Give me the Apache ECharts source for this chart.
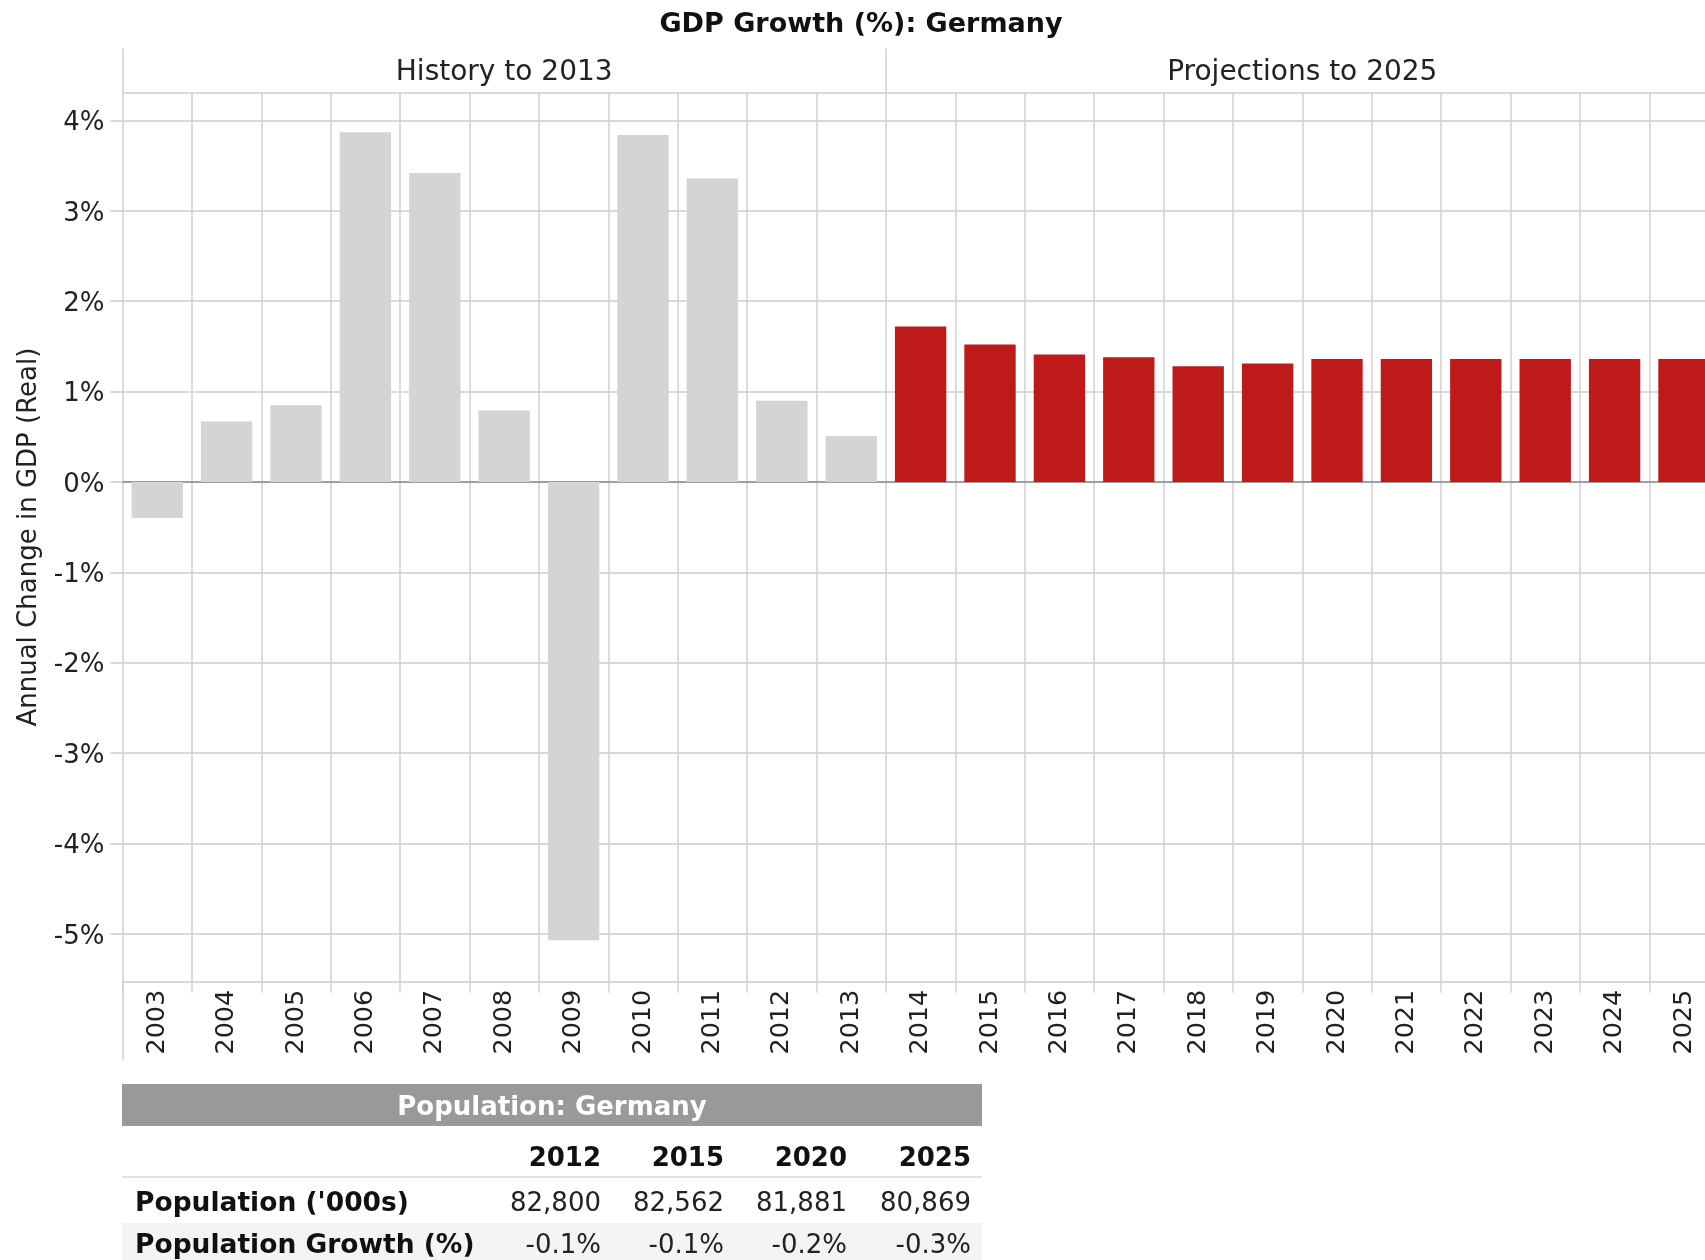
<!DOCTYPE html>
<html><head><meta charset="utf-8">
<script src="https://cdn.jsdelivr.net/npm/echarts@6/dist/echarts.min.js"></script>
<style>html,body{margin:0;padding:0;background:#fff}#c{width:1705px;height:1260px}</style>
</head><body><div id="c"></div>
<script>
const chartTitle = 'GDP Growth (%): Germany';
const historyLabel = 'History to 2013';
const projectionLabel = 'Projections to 2025';
const yAxisName = 'Annual Change in GDP (Real)';
const historyYears = ['2003','2004','2005','2006','2007','2008','2009','2010','2011','2012','2013'];
const historyGrowth = [-0.4, 0.67, 0.85, 3.87, 3.42, 0.79, -5.07, 3.84, 3.36, 0.9, 0.51];
const projectionYears = ['2014','2015','2016','2017','2018','2019','2020','2021','2022','2023','2024','2025'];
const projectionGrowth = [1.72, 1.52, 1.41, 1.38, 1.28, 1.31, 1.36, 1.36, 1.36, 1.36, 1.36, 1.36];
const yMin = -5.53, yMax = 4.31;
const tableTitle = 'Population: Germany';
const tableYears = ['2012','2015','2020','2025'];
const tableRowLabels = ["Population ('000s)", 'Population Growth (%)'];
const populationValues = ['82,800','82,562','81,881','80,869'];
const populationGrowth = ['-0.1%','-0.1%','-0.2%','-0.3%'];

const FONT = '"DejaVu Sans", Verdana, sans-serif';
const categories = historyYears.concat(projectionYears);
const n = categories.length;
const nh = historyYears.length;
const histData = historyGrowth.concat(projectionYears.map(() => '-'));
const projData = historyYears.map(() => '-').concat(projectionGrowth);

// table graphics
const tbl = { left: 122, right: 982, barTop: 1084, barH: 42, headY: 1159, lineY: 1177, row1Y: 1204.5, row2Top: 1223, row2Y: 1246.5, labelX: 135, cols: [601, 724, 847, 971] };
const g = [];
g.push({ type: 'text', x: 861, y: 24.5, style: { text: chartTitle, font: 'bold 27px ' + FONT, fill: '#111', align: 'center', verticalAlign: 'middle' } });
g.push({ type: 'rect', shape: { x: tbl.left, y: tbl.barTop, width: tbl.right - tbl.left, height: tbl.barH }, style: { fill: '#999999' } });
g.push({ type: 'text', x: (tbl.left + tbl.right) / 2, y: tbl.barTop + tbl.barH / 2 + 3.5, style: { text: tableTitle, font: 'bold 26px ' + FONT, fill: '#fff', align: 'center', verticalAlign: 'middle' } });
g.push({ type: 'rect', shape: { x: tbl.left, y: tbl.row2Top, width: tbl.right - tbl.left, height: 1260 - tbl.row2Top }, style: { fill: '#f4f4f4' } });
g.push({ type: 'line', shape: { x1: tbl.left, y1: tbl.lineY, x2: tbl.right, y2: tbl.lineY }, style: { stroke: '#e2e2e2', lineWidth: 2 } });
tableYears.forEach((y, i) => g.push({ type: 'text', x: tbl.cols[i], y: tbl.headY, style: { text: y, font: 'bold 26px ' + FONT, fill: '#111', align: 'right', verticalAlign: 'middle' } }));
[populationValues, populationGrowth].forEach((row, r) => {
  const yy = r === 0 ? tbl.row1Y : tbl.row2Y;
  g.push({ type: 'text', x: tbl.labelX, y: yy, style: { text: tableRowLabels[r], font: 'bold 26.5px ' + FONT, fill: '#111', align: 'left', verticalAlign: 'middle' } });
  row.forEach((v, i) => g.push({ type: 'text', x: tbl.cols[i], y: yy, style: { text: v, font: '26px ' + FONT, fill: '#222', align: 'right', verticalAlign: 'middle' } }));
});

const chart = echarts.init(document.getElementById('c'), null, { renderer: 'canvas' });
chart.setOption({
  animation: false,
  backgroundColor: '#fff',
  textStyle: { fontFamily: FONT },
  grid: { left: 122.5, right: -13.7, top: 92.5, bottom: 278.3, containLabel: false, outerBoundsMode: 'none' },
  xAxis: [
    { type: 'category', data: categories, position: 'bottom', boundaryGap: true,
      axisLine: { show: false, onZero: false },
      axisTick: { show: true, length: 11, lineStyle: { color: '#d5d5d5', width: 1.5 } },
      axisLabel: { rotate: 90, interval: 0, fontSize: 25.5, color: '#222', margin: 8, fontFamily: FONT },
      splitLine: { show: true, lineStyle: { color: '#d0d0d0', width: 1.5 } } },
    { type: 'value', position: 'top', min: -0.5, max: n - 0.5,
      axisLine: { show: false, onZero: false }, splitLine: { show: false },
      axisTick: { show: true, customValues: [-0.5, nh - 0.5], length: 44, lineStyle: { color: '#d0d0d0', width: 1.5 } },
      axisLabel: { customValues: [(nh - 1) / 2, nh + (n - nh - 1) / 2], formatter: v => (v < nh ? historyLabel : projectionLabel), fontSize: 28, color: '#222', margin: 6, fontFamily: FONT } },
    { type: 'value', position: 'bottom', min: -0.5, max: n - 0.5,
      axisLine: { show: false, onZero: false }, splitLine: { show: false }, axisLabel: { show: false },
      axisTick: { show: true, customValues: [-0.5], length: 78, lineStyle: { color: '#d0d0d0', width: 1.5 } } },
    { type: 'value', position: 'bottom', min: -0.5, max: n - 0.5,
      axisLine: { show: true, onZero: true, onZeroAxisIndex: 0, lineStyle: { color: '#8a8a8a', width: 1.5 } },
      splitLine: { show: false }, axisLabel: { show: false }, axisTick: { show: false } }
  ],
  yAxis: {
    type: 'value', min: yMin, max: yMax, splitNumber: 10, minInterval: 1, maxInterval: 1,
    name: yAxisName, nameLocation: 'middle', nameGap: 80, nameRotate: 90,
    nameTextStyle: { fontSize: 26, color: '#222', fontFamily: FONT },
    axisLine: { show: false, onZero: false },
    axisTick: { show: true, length: 12, lineStyle: { color: '#d9d9d9', width: 2 } },
    axisLabel: { formatter: v => '{a|' + v + '%}', margin: 18, showMinLabel: false, showMaxLabel: false,
      rich: { a: { fontSize: 26, color: '#222', fontFamily: FONT, padding: [6, 0, 0, 0] } } },
    splitLine: { show: true, lineStyle: { color: '#d9d9d9', width: 2 } }
  },
  series: [
    { type: 'bar', name: 'History', data: histData, barWidth: '74%', barGap: '-100%', itemStyle: { color: '#d4d4d4' } },
    { type: 'bar', name: 'Projections', data: projData, barWidth: '74%', barGap: '-100%', itemStyle: { color: '#be1a1a' } }
  ],
  graphic: { elements: g }
});
</script></body></html>
